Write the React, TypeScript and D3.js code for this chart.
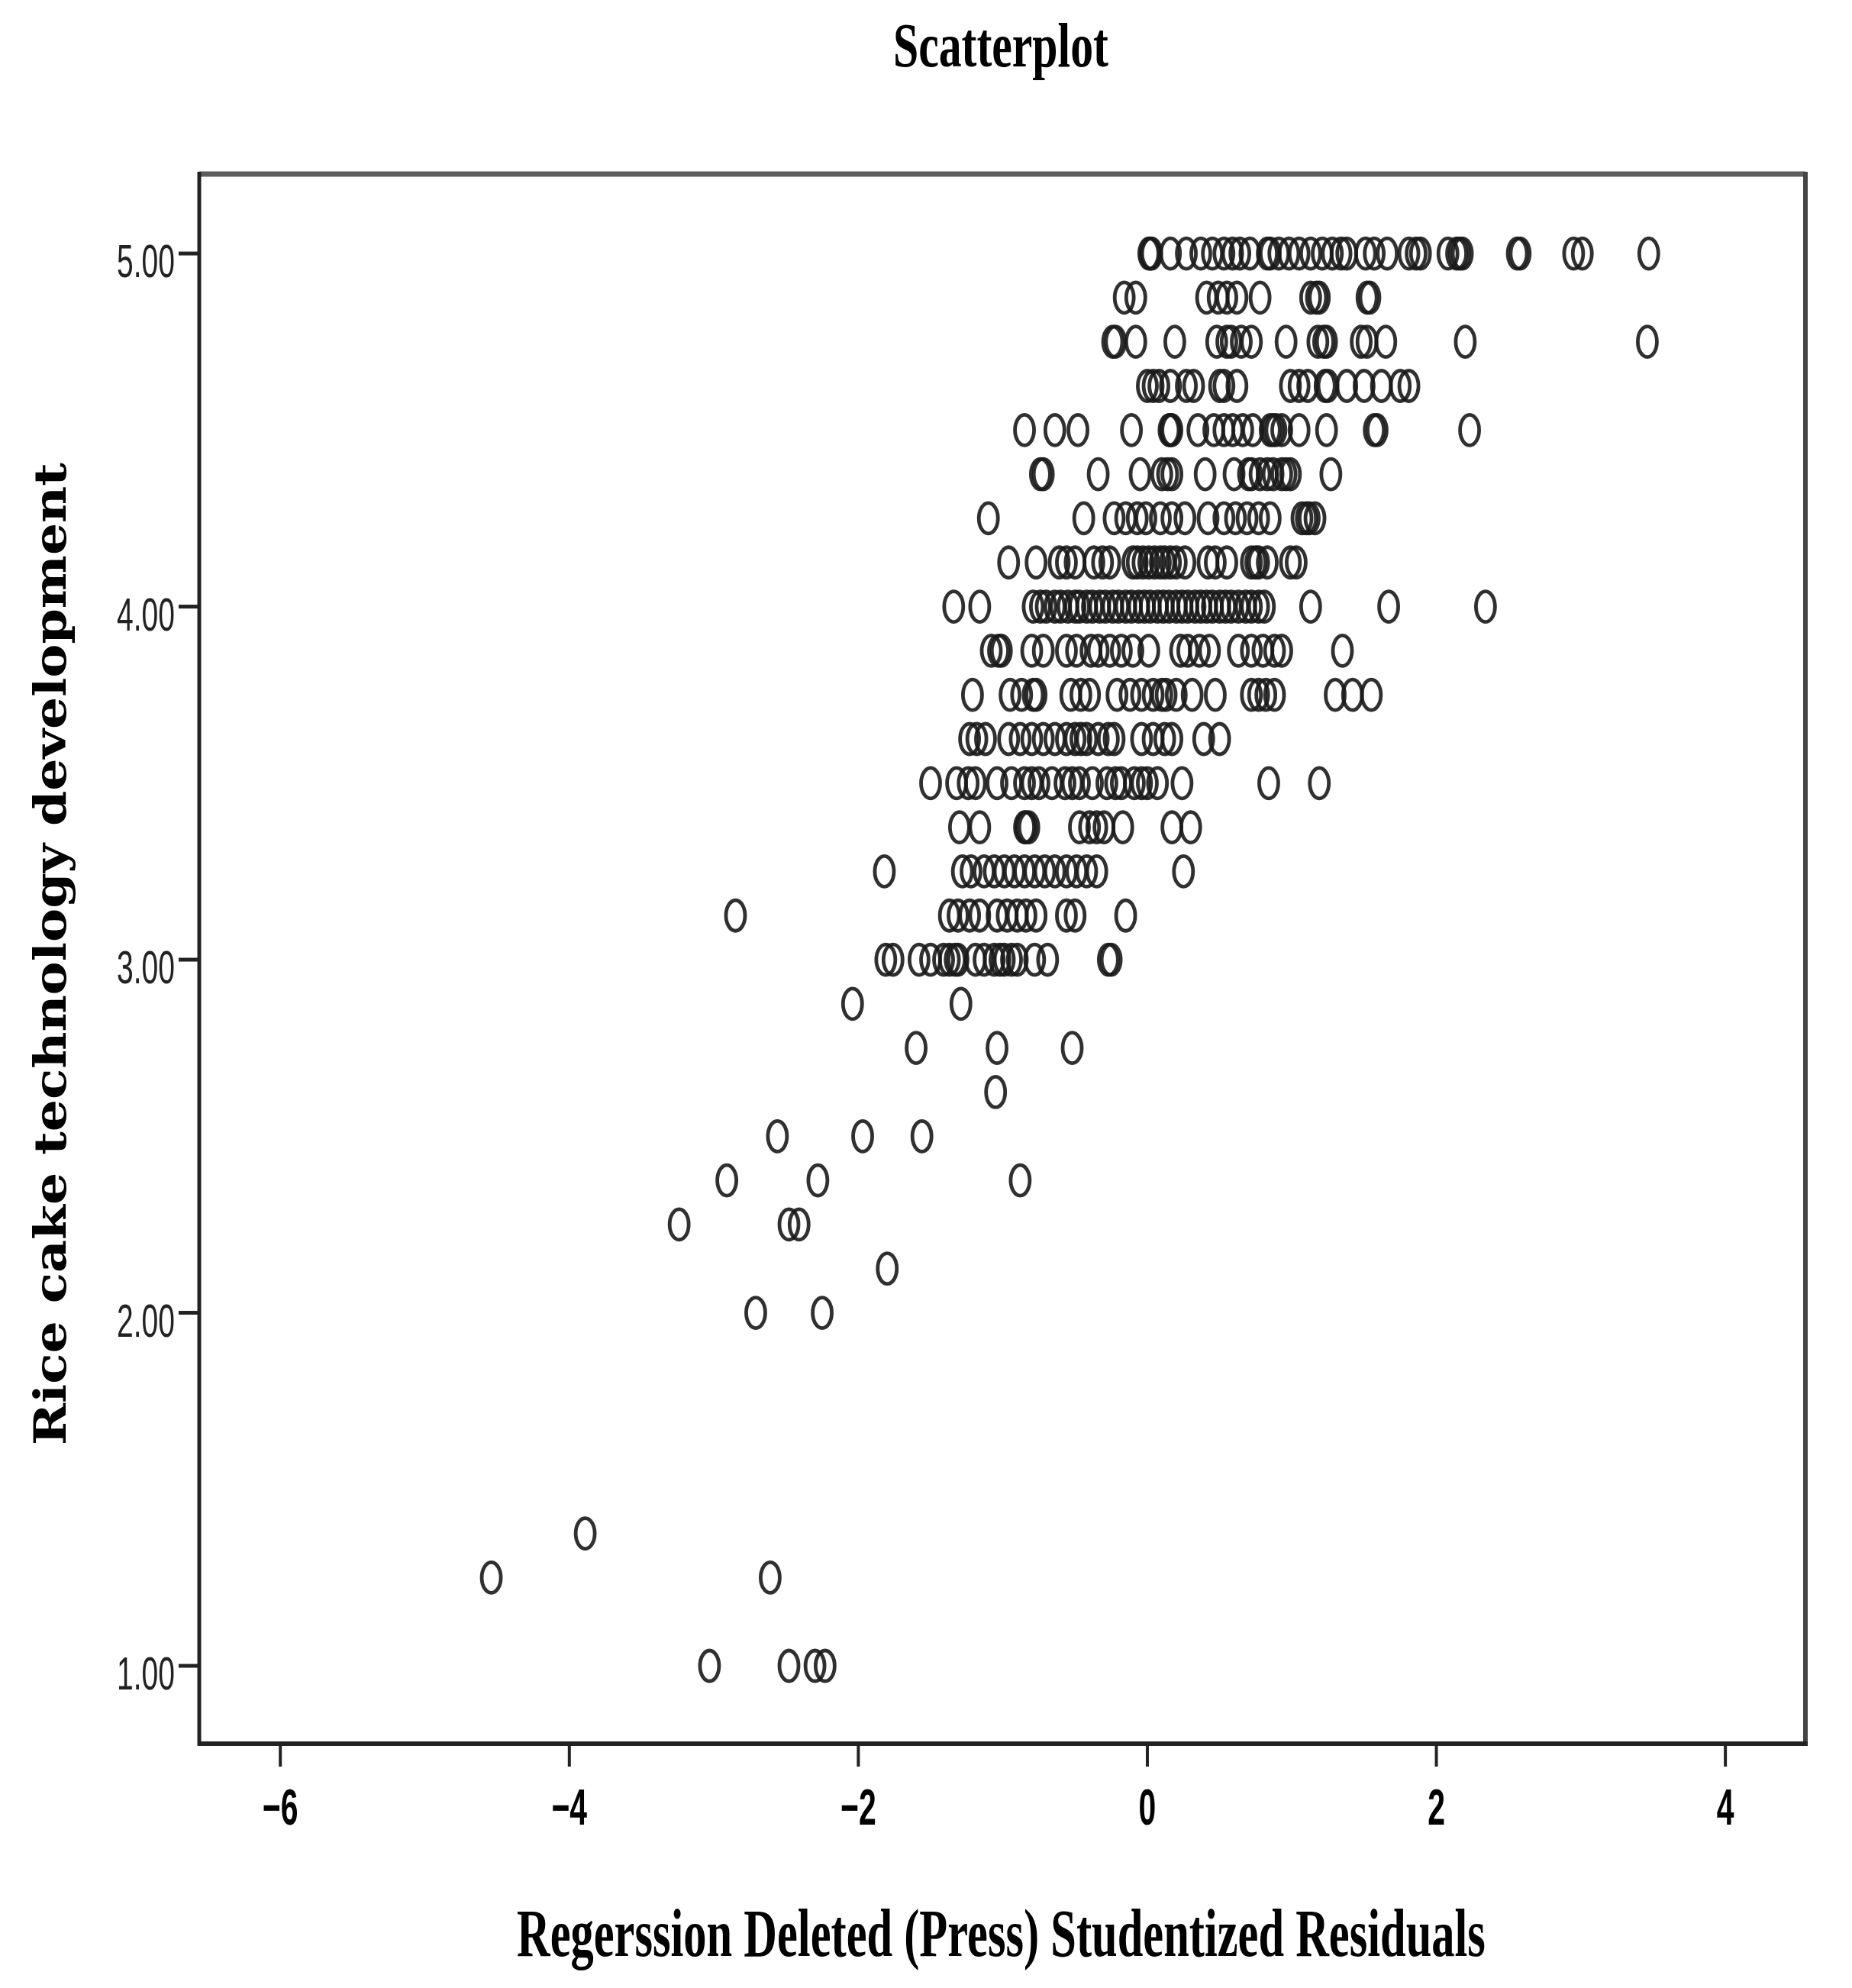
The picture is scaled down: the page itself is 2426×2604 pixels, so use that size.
import React, { useLayoutEffect, useRef, useState } from "react";
import * as d3 from "d3";

// ---- Data: studentized deleted residual (x) for each observed score level (y) ----
const row500 = [0.01, 0.02, 0.03, 0.16, 0.27, 0.37, 0.45, 0.53, 0.59, 0.64, 0.71, 0.83, 0.85, 0.91, 0.98, 1.05, 1.13, 1.21, 1.28, 1.34, 1.38, 1.51, 1.57, 1.66, 1.81, 1.86, 1.89, 2.08, 2.14, 2.16, 2.18, 2.56, 2.58, 2.95, 3.01, 3.47];
const row4875 = [-0.16, -0.08, 0.41, 0.49, 0.55, 0.62, 0.78, 1.13, 1.17, 1.19, 1.52, 1.54];
const row475 = [-0.24, -0.22, -0.08, 0.19, 0.48, 0.55, 0.58, 0.65, 0.72, 0.96, 1.18, 1.22, 1.24, 1.48, 1.52, 1.65, 2.2, 3.46];
const row4625 = [0.0, 0.04, 0.08, 0.16, 0.27, 0.32, 0.5, 0.53, 0.62, 0.99, 1.05, 1.11, 1.23, 1.25, 1.38, 1.5, 1.62, 1.75, 1.81];
const row450 = [-0.85, -0.64, -0.48, -0.11, 0.15, 0.16, 0.17, 0.35, 0.46, 0.53, 0.59, 0.66, 0.73, 0.85, 0.87, 0.89, 0.93, 1.05, 1.24, 1.57, 1.59, 2.23];
const row4375 = [-0.74, -0.72, -0.34, -0.05, 0.1, 0.14, 0.17, 0.4, 0.6, 0.7, 0.72, 0.78, 0.83, 0.87, 0.93, 0.96, 0.99, 1.27];
const row425 = [-1.1, -0.44, -0.23, -0.15, -0.07, -0.01, 0.09, 0.17, 0.26, 0.42, 0.53, 0.61, 0.69, 0.77, 0.85, 1.07, 1.1, 1.12, 1.16];
const row4125 = [-0.96, -0.77, -0.61, -0.56, -0.5, -0.37, -0.31, -0.26, -0.1, -0.07, -0.03, 0.01, 0.05, 0.09, 0.12, 0.16, 0.2, 0.26, 0.42, 0.47, 0.55, 0.72, 0.75, 0.77, 0.83, 0.99, 1.03];
const row400 = [-1.34, -1.16, -0.79, -0.74, -0.7, -0.64, -0.6, -0.55, -0.5, -0.47, -0.42, -0.38, -0.33, -0.29, -0.24, -0.2, -0.15, -0.11, -0.06, -0.02, 0.02, 0.07, 0.11, 0.15, 0.2, 0.24, 0.28, 0.33, 0.37, 0.41, 0.45, 0.5, 0.54, 0.58, 0.63, 0.68, 0.72, 0.77, 0.81, 1.13, 1.67, 2.34];
const row3875 = [-1.08, -1.03, -1.01, -0.8, -0.72, -0.56, -0.49, -0.39, -0.34, -0.26, -0.18, -0.1, 0.01, 0.23, 0.28, 0.36, 0.43, 0.63, 0.72, 0.8, 0.88, 0.93, 1.35];
const row375 = [-1.21, -0.95, -0.87, -0.79, -0.77, -0.53, -0.46, -0.4, -0.21, -0.12, -0.04, 0.04, 0.1, 0.13, 0.2, 0.31, 0.47, 0.72, 0.77, 0.82, 0.88, 1.3, 1.42, 1.55];
const row3625 = [-1.23, -1.18, -1.12, -0.96, -0.88, -0.8, -0.72, -0.64, -0.56, -0.5, -0.46, -0.42, -0.34, -0.27, -0.23, -0.04, 0.04, 0.12, 0.17, 0.39, 0.5];
const row350 = [-1.5, -1.32, -1.24, -1.19, -1.04, -0.94, -0.85, -0.8, -0.75, -0.66, -0.57, -0.52, -0.47, -0.38, -0.28, -0.22, -0.18, -0.09, -0.04, 0.0, 0.07, 0.24, 0.84, 1.19];
const row3375 = [-1.3, -1.16, -0.85, -0.84, -0.82, -0.47, -0.4, -0.35, -0.3, -0.17, 0.17, 0.3];
const row325 = [-1.82, -1.28, -1.22, -1.13, -1.06, -0.99, -0.92, -0.85, -0.78, -0.71, -0.64, -0.56, -0.49, -0.42, -0.35, 0.25];
const row3125 = [-2.85, -1.37, -1.31, -1.23, -1.16, -1.04, -0.97, -0.9, -0.84, -0.77, -0.56, -0.5, -0.15];
const row300 = [-1.81, -1.76, -1.58, -1.5, -1.41, -1.37, -1.33, -1.31, -1.19, -1.13, -1.06, -1.02, -0.99, -0.94, -0.9, -0.78, -0.69, -0.27, -0.25];
const row2875 = [-2.04, -1.29];
const row275 = [-1.6, -1.04, -0.52];
const row2625 = [-1.05];
const row250 = [-2.56, -1.97, -1.56];
const row2375 = [-2.91, -2.28, -0.88];
const row225 = [-3.24, -2.48, -2.41];
const row2125 = [-1.8];
const row200 = [-2.71, -2.25];
const row1375 = [-3.89];
const row125 = [-4.54, -2.61];
const row100 = [-3.03, -2.48, -2.3, -2.23];

const levels = [5.0, 4.875, 4.75, 4.625, 4.5, 4.375, 4.25, 4.125, 4.0, 3.875, 3.75, 3.625, 3.5, 3.375, 3.25, 3.125, 3.0, 2.875, 2.75, 2.625, 2.5, 2.375, 2.25, 2.125, 2.0, 1.375, 1.25, 1.0];
const rowValues = [row500, row4875, row475, row4625, row450, row4375, row425, row4125, row400, row3875, row375, row3625, row350, row3375, row325, row3125, row300, row2875, row275, row2625, row250, row2375, row225, row2125, row200, row1375, row125, row100];

const xTicks = [-6, -4, -2, 0, 2, 4];
const yTicks = [1, 2, 3, 4, 5];

const titleText = "Scatterplot";
const xTitleText = "Regerssion Deleted (Press) Studentized Residuals";
const yTitleText = "Rice cake technology development";

// Text squeezed/stretched horizontally to a target width (measured after layout)
function FitText(props: {
  x: number;
  y: number;
  width: number;
  rotate?: number;
  fontFamily: string;
  fontWeight?: string;
  fontSize: number;
  children: string;
}) {
  const ref = useRef<SVGTextElement>(null);
  const [sx, setSx] = useState(1);
  useLayoutEffect(() => {
    if (ref.current) {
      const w = ref.current.getComputedTextLength();
      if (w > 0) setSx(props.width / w);
    }
  }, [props.width, props.children, props.fontSize]);
  const rot = props.rotate ? ` rotate(${props.rotate})` : "";
  return (
    <text
      ref={ref}
      transform={`translate(${props.x}, ${props.y})${rot} scale(${sx}, 1)`}
      fontFamily={props.fontFamily}
      fontWeight={props.fontWeight}
      fontSize={props.fontSize}
      fill="#000"
    >
      {props.children}
    </text>
  );
}

export default function App() {
  const W = 2426;
  const H = 2604;
  const left = 261, right = 2365, top = 228, bottom = 2284;

  const x = d3.scaleLinear().domain([-6.561, 4.554]).range([left, right]);
  const y = d3.scaleLinear().domain([0.7795, 5.225]).range([bottom, top]);

  const points: { x: number; y: number }[] = [];
  levels.forEach((lv, i) => {
    rowValues[i].forEach((v) => points.push({ x: v, y: lv }));
  });

  const fmtY = d3.format(".2f");
  const fmtX = (v: number) => (v < 0 ? "\u2212" + Math.abs(v) : String(v));

  return (
    <svg
      width={W}
      height={H}
      style={{ position: "absolute", left: 0, top: 0, background: "#fff" }}
    >
      <rect x={0} y={0} width={W} height={H} fill="#fff" />
      {/* title */}
      <FitText
        x={1170}
        y={87}
        width={282}
        fontFamily="'Liberation Serif', serif"
        fontWeight="bold"
        fontSize={82}
      >
        {titleText}
      </FitText>

      {/* frame */}
      <line x1={left} x2={right} y1={top} y2={top} stroke="#5e5e5e" strokeWidth={7} />
      <line x1={right} x2={right} y1={top - 3} y2={bottom} stroke="#444" strokeWidth={6} />
      <line x1={left} x2={left} y1={top - 3} y2={bottom + 3} stroke="#222" strokeWidth={5} />
      <line x1={left - 2} x2={right + 3} y1={bottom} y2={bottom} stroke="#222" strokeWidth={6} />

      {/* y ticks */}
      {yTicks.map((t) => (
        <g key={"y" + t}>
          <line x1={234} x2={left} y1={y(t)} y2={y(t)} stroke="#222" strokeWidth={5} />
          <text
            transform={`translate(229, ${y(t) + 31}) scale(0.64, 1)`}
            textAnchor="end"
            fontFamily="'Liberation Sans', Arial, sans-serif"
            fontSize={61}
            fill="#222"
          >
            {fmtY(t)}
          </text>
        </g>
      ))}

      {/* x ticks */}
      {xTicks.map((t) => (
        <g key={"x" + t}>
          <line x1={x(t)} x2={x(t)} y1={bottom} y2={bottom + 30} stroke="#222" strokeWidth={4} />
          <text
            transform={`translate(${x(t)}, 2390) scale(0.62, 1)`}
            textAnchor="middle"
            fontFamily="'Liberation Sans', Arial, sans-serif"
            fontWeight="bold"
            fontSize={66}
            fill="#000"
          >
            {fmtX(t)}
          </text>
        </g>
      ))}

      {/* points */}
      <g fill="none" stroke="#1a1a1a" strokeWidth={4.8} strokeOpacity={0.9}>
        {points.map((p, i) => (
          <ellipse key={i} cx={x(p.x)} cy={y(p.y)} rx={12.5} ry={20} />
        ))}
      </g>

      {/* axis titles */}
      <FitText
        x={677}
        y={2562}
        width={1269}
        fontFamily="'Liberation Serif', serif"
        fontWeight="bold"
        fontSize={88}
      >
        {xTitleText}
      </FitText>
      <FitText
        x={86}
        y={1893}
        width={1287}
        rotate={-90}
        fontFamily="'DejaVu Serif', serif"
        fontWeight="bold"
        fontSize={57}
      >
        {yTitleText}
      </FitText>
    </svg>
  );
}
